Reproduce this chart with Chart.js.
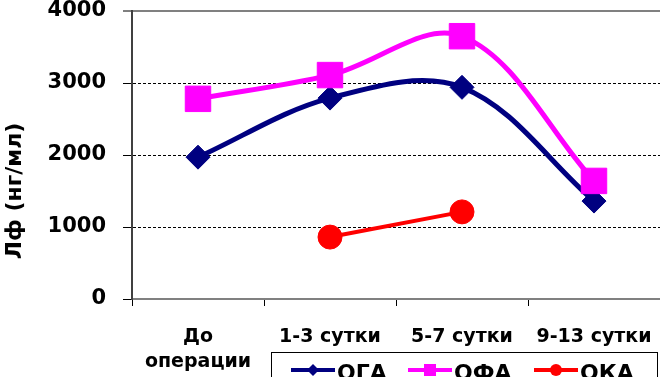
<!DOCTYPE html>
<html>
<head>
<meta charset="utf-8">
<script src="https://cdn.jsdelivr.net/npm/chart.js@4.4.1/dist/chart.umd.min.js"></script>
<style>
    html, body { margin: 0; padding: 0; background: #fff; }
    #chart { display: block; }
</style>
</head>
<body>
<canvas id="chart" width="660" height="377"></canvas>
<script>
// values
const categories = [['До', 'операции'], '1-3 сутки', '5-7 сутки', '9-13 сутки'];
const seriesNames = ['ОГА', 'ОФА', 'ОКА'];
const ogaValues = [1970, 2790, 2940, 1360];
const ofaValues = [2780, 3110, 3650, 1640];
const okaValues = [null, 860, 1210, null];
const yTicks = [0, 1000, 2000, 3000, 4000];
const yTitle = 'Лф (нг/мл)';

const FONT = "'DejaVu Sans', Arial, sans-serif";

// legend + rotated axis title, drawn by hand like the excel original
const excelExtras = {
    id: 'excelExtras',
    afterDraw(chart) {
        const ctx = chart.ctx;
        ctx.save();

        // y axis title
        ctx.translate(15, 191);
        ctx.rotate(-Math.PI / 2);
        ctx.font = 'bold 22px ' + FONT;
        ctx.fillStyle = '#000';
        ctx.textAlign = 'center';
        ctx.textBaseline = 'middle';
        ctx.fillText(yTitle, 0, 0);
        ctx.restore();

        // legend box
        ctx.save();
        ctx.strokeStyle = '#000';
        ctx.lineWidth = 1;
        ctx.strokeRect(271.5, 352.5, 386, 40);

        const starts = [291, 408, 534];
        const lineY = 370;
        chart.data.datasets.forEach((ds, i) => {
            const x0 = starts[i];
            const x1 = x0 + 44;
            const cx = (x0 + x1) / 2;
            ctx.strokeStyle = ds.borderColor;
            ctx.fillStyle = ds.borderColor;
            ctx.lineWidth = 4;
            ctx.beginPath();
            ctx.moveTo(x0, lineY);
            ctx.lineTo(x1, lineY);
            ctx.stroke();

            ctx.beginPath();
            if (ds.pointStyle === 'rectRot') {
                ctx.moveTo(cx, lineY - 6);
                ctx.lineTo(cx + 6, lineY);
                ctx.lineTo(cx, lineY + 6);
                ctx.lineTo(cx - 6, lineY);
                ctx.closePath();
            } else if (ds.pointStyle === 'rect') {
                ctx.rect(cx - 6, lineY - 6, 12, 12);
            } else {
                ctx.arc(cx, lineY, 6, 0, Math.PI * 2);
            }
            ctx.fill();

            ctx.fillStyle = '#000';
            ctx.font = 'bold 22px ' + FONT;
            ctx.textAlign = 'left';
            ctx.textBaseline = 'alphabetic';
            ctx.fillText(ds.label, x1 + 2, 380);
        });
        ctx.restore();
    }
};

const ctx = document.getElementById('chart').getContext('2d');

new Chart(ctx, {
    type: 'line',
    data: {
        labels: categories,
        datasets: [
            {
                label: seriesNames[0],
                data: ogaValues,
                borderColor: '#000080',
                backgroundColor: '#000080',
                borderWidth: 5,
                tension: 0.35,
                pointStyle: 'rectRot',
                pointRadius: 12,
                pointHoverRadius: 12,
                pointBorderWidth: 1,
                order: 2
            },
            {
                label: seriesNames[1],
                data: ofaValues,
                borderColor: '#ff00ff',
                backgroundColor: '#ff00ff',
                borderWidth: 5,
                tension: 0.35,
                pointStyle: 'rect',
                pointRadius: 18,
                pointHoverRadius: 18,
                pointBorderWidth: 1,
                order: 1
            },
            {
                label: seriesNames[2],
                data: okaValues,
                borderColor: '#ff0000',
                backgroundColor: '#ff0000',
                borderWidth: 4,
                tension: 0,
                pointStyle: 'circle',
                pointRadius: 12,
                pointHoverRadius: 12,
                pointBorderWidth: 1,
                order: 0
            }
        ]
    },
    options: {
        responsive: false,
        animation: false,
        devicePixelRatio: 1,
        layout: { autoPadding: false, padding: { top: 11, right: 0, bottom: 0, left: 0 } },
        plugins: {
            legend: { display: false },
            tooltip: { enabled: false },
            title: { display: false }
        },
        scales: {
            x: {
                offset: true,
                grid: {
                    display: true,
                    drawOnChartArea: false,
                    drawTicks: true,
                    tickLength: 7,
                    tickColor: '#000',
                    tickWidth: 1,
                    offset: true
                },
                border: { display: true, color: '#808080', width: 2 },
                ticks: {
                    color: '#000',
                    padding: 18,
                    maxRotation: 0,
                    autoSkip: false,
                    font: { family: FONT, size: 19, weight: 'bold', lineHeight: 1.35 }
                },
                afterFit(scale) {
                    scale.height = 78;
                    scale.paddingLeft = 0;
                    scale.paddingRight = 0;
                }
            },
            y: {
                min: 0,
                max: 4000,
                afterBuildTicks(scale) {
                    scale.ticks = yTicks.map(v => ({ value: v }));
                },
                grid: {
                    color: c => c.tick && c.tick.value === 4000 ? '#808080' : (c.tick && c.tick.value === 0 ? 'rgba(0,0,0,0)' : '#000'),
                    lineWidth: c => c.tick && c.tick.value === 4000 ? 2 : 1,
                    tickLength: 9,
                    tickColor: '#000',
                    tickWidth: 1
                },
                border: {
                    display: true,
                    color: '#404040',
                    width: 2,
                    dash: c => (c.tick && c.tick.value > 0 && c.tick.value < 4000) ? [3, 2] : []
                },
                ticks: {
                    color: '#000',
                    padding: 17,
                    callback: v => String(v),
                    font: { family: FONT, size: 21, weight: 'bold', lineHeight: 1 }
                },
                afterFit(scale) {
                    scale.width = 132;
                    scale.paddingTop = 0;
                    scale.paddingBottom = 0;
                }
            }
        }
    },
    plugins: [excelExtras]
});
</script>
</body>
</html>
